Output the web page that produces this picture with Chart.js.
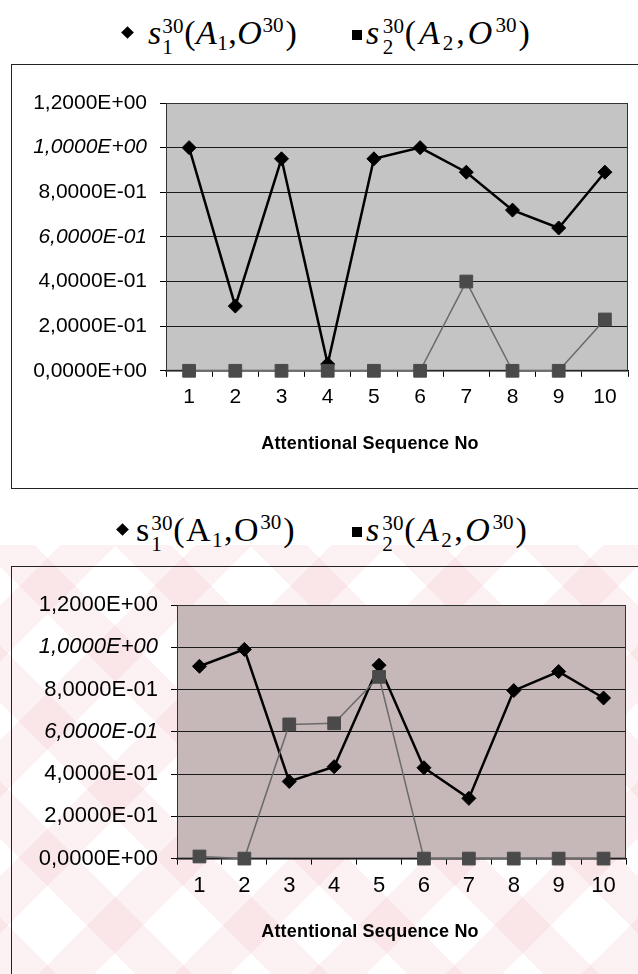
<!DOCTYPE html>
<html>
<head>
<meta charset="utf-8">
<script src="https://cdn.jsdelivr.net/npm/chart.js@4.4.1/dist/chart.umd.min.js"></script>
<style>
  html, body { margin: 0; padding: 0; background: #fff; }
  body { width: 638px; height: 974px; position: relative; overflow: hidden; }
  .wm {
    position: absolute; left: 0; top: 545px; width: 638px; height: 429px;
    background-image:
      repeating-linear-gradient(45deg, rgba(240, 185, 193, 0.2) 0 40px, transparent 40px 96px),
      repeating-linear-gradient(-45deg, rgba(240, 185, 193, 0.2) 0 40px, transparent 40px 96px);
  }
  .box { position: absolute; border: 1px solid #222; }
  #box1 { left: 11px; top: 64px; width: 640px; height: 423px; }
  #box2 { left: 11px; top: 566px; width: 640px; height: 420px; }
  canvas { position: absolute; left: 0; }
  #c1 { top: 0; }
  #c2 { top: 490px; }
  .lg {
    position: absolute; white-space: nowrap; color: #000; line-height: 1;
    font-family: "Liberation Serif", "Times New Roman", serif; font-size: 34px;
  }
  .stk { display: inline-block; position: relative; width: 0.66em; height: 1px; letter-spacing: 0; }
  .stk .u { position: absolute; left: 0.03em; bottom: 0.32em; font-size: 0.62em; line-height: 1; }
  .stk .d { position: absolute; left: 0.03em; top: -0.30em; font-size: 0.62em; line-height: 1; }
  .sb { font-size: 0.62em; position: relative; top: 0.3em; }
  .sp { font-size: 0.62em; position: relative; top: -0.55em; letter-spacing: 0; margin-right: 2px; }
  .dia { display: inline-block; width: 9px; height: 9px; background: #000; transform: rotate(45deg); vertical-align: 0.2em; }
  .sq { display: inline-block; width: 10px; height: 10px; background: #000; margin-right: 4px; vertical-align: 0.12em; }
  .xt {
    position: absolute; width: 300px; text-align: center; color: #000;
    font-family: "Liberation Sans", Arial, sans-serif; font-size: 18px; font-weight: bold;
    letter-spacing: 0.2px; line-height: 1;
  }
</style>
</head>
<body>
<div class="wm"></div>
<div class="box" id="box1"></div>
<div class="box" id="box2"></div>

<div class="lg" style="left:123px; top:16px; letter-spacing:0.5px;"><span class="dia" style="margin-right:16px"></span><i>s</i><span class="stk"><span class="u">30</span><span class="d">1</span></span>(<i>A</i><span class="sb">1</span>,<i>O</i><span class="sp">30</span>)</div>
<div class="lg" style="left:352px; top:16px; letter-spacing:3px;"><span class="sq"></span><i>s</i><span class="stk"><span class="u">30</span><span class="d">2</span></span>(<i>A</i><span class="sb">2</span>,<i>O</i><span class="sp">30</span>)</div>

<div class="lg" style="left:118px; top:513px; letter-spacing:1.5px;"><span class="dia" style="margin-right:9px"></span>s<span class="stk"><span class="u">30</span><span class="d">1</span></span>(A<span class="sb">1</span>,O<span class="sp">30</span>)</div>
<div class="lg" style="left:352px; top:513px; letter-spacing:2.5px;"><span class="sq"></span><i>s</i><span class="stk"><span class="u">30</span><span class="d">2</span></span>(<i>A</i><span class="sb">2</span>,<i>O</i><span class="sp">30</span>)</div>

<canvas id="c1" width="638" height="490"></canvas>
<canvas id="c2" width="638" height="484"></canvas>

<div class="xt" style="left:220px; top:434px;">Attentional Sequence No</div>
<div class="xt" style="left:220px; top:922px;">Attentional Sequence No</div>

<script>
// Attentional sequence numbers on the x axis
const categories = ['1', '2', '3', '4', '5', '6', '7', '8', '9', '10'];

// Upper chart: s1 for A1 and s2 for A2 against O30
const upperS1 = [1.0, 0.29, 0.95, 0.03, 0.95, 1.0, 0.89, 0.72, 0.64, 0.89];
const upperS2 = [0, 0, 0, 0, 0, 0, 0.40, 0, 0, 0.23];

// Lower chart
const lowerS1 = [0.91, 0.99, 0.365, 0.435, 0.915, 0.43, 0.285, 0.795, 0.885, 0.76];
const lowerS2 = [0.01, 0, 0.635, 0.64, 0.86, 0, 0, 0, 0, 0];

// Value axis range and the tick labels that print in italics
const yMin = 0, yMax = 1.2, yStep = 0.2;
const italicTicks = [1.0, 0.6];

// "1,2000E+00" style labels with a decimal comma
function sci(v) {
  v = Math.round(v * 10000) / 10000;
  if (v === 0) return '0,0000E+00';
  const e = Math.floor(Math.log10(v) + 1e-9);
  const m = v / Math.pow(10, e);
  return m.toFixed(4).replace('.', ',') + 'E' + (e < 0 ? '-' : '+') + String(Math.abs(e)).padStart(2, '0');
}

// Shaded plot background and its frame
const plotFrame = {
  id: 'plotFrame',
  beforeDraw(chart, args, opts) {
    const { ctx, chartArea: a } = chart;
    ctx.save();
    ctx.fillStyle = opts.fill;
    ctx.fillRect(a.left, a.top, a.right - a.left, a.bottom - a.top);
    ctx.restore();
  },
  beforeDatasetsDraw(chart) {
    const { ctx, chartArea: a } = chart;
    ctx.save();
    ctx.strokeStyle = '#333';
    ctx.lineWidth = 1;
    ctx.strokeRect(a.left + 0.5, a.top + 0.5, a.right - a.left - 1, a.bottom - a.top - 1);
    ctx.restore();
  }
};

function makeChart(id, s1, s2, o) {
  const family = '"Liberation Sans", Arial, sans-serif';
  return new Chart(document.getElementById(id), {
    type: 'line',
    data: {
      labels: categories,
      datasets: [
        {
          data: s1, borderColor: '#000', backgroundColor: '#000', borderWidth: 2.5,
          pointStyle: 'rectRot', pointRadius: 7, pointBorderWidth: 1,
          pointBackgroundColor: '#000', pointBorderColor: '#000',
          order: 1, clip: false, tension: 0
        },
        {
          data: s2, borderColor: '#6a6a6a', backgroundColor: '#4a4a4a', borderWidth: 1.5,
          pointStyle: 'rect', pointRadius: 9, pointBorderWidth: 1,
          pointBackgroundColor: '#4a4a4a', pointBorderColor: '#4a4a4a',
          order: 0, clip: false, tension: 0
        }
      ]
    },
    options: {
      responsive: false, animation: false, events: [],
      layout: { padding: { top: o.top, right: o.right, left: 0, bottom: o.bottom } },
      plugins: { legend: { display: false }, tooltip: { enabled: false }, plotFrame: { fill: o.fill } },
      scales: {
        x: {
          offset: true,
          grid: { offset: true, drawOnChartArea: false, tickLength: 6, color: '#000', tickColor: '#000' },
          border: { color: '#000', width: 1.5 },
          ticks: { font: { family, size: o.fs }, color: '#000', padding: 8, maxRotation: 0 }
        },
        y: {
          min: yMin, max: yMax,
          ticks: {
            stepSize: yStep, color: '#000', padding: 13,
            callback: v => sci(v),
            font: ctx => ({
              family, size: o.fs,
              style: (ctx.tick && italicTicks.includes(Math.round(ctx.tick.value * 10) / 10)) ? 'italic' : 'normal'
            })
          },
          grid: { color: '#1a1a1a', tickColor: '#000', tickLength: 6, lineWidth: 1 },
          border: { color: '#000' },
          afterFit(s) { s.width = o.yw; }
        }
      }
    },
    plugins: [plotFrame]
  });
}

// Bottom padding leaves room for the axis caption below the tick labels
makeChart('c1', upperS1, upperS2, { top: 103, right: 10, bottom: 72, yw: 166, fs: 21, fill: '#c4c4c4' });
makeChart('c2', lowerS1, lowerS2, { top: 115, right: 12, bottom: 67, yw: 177, fs: 22, fill: '#c6b7b9' });
</script>
</body>
</html>
